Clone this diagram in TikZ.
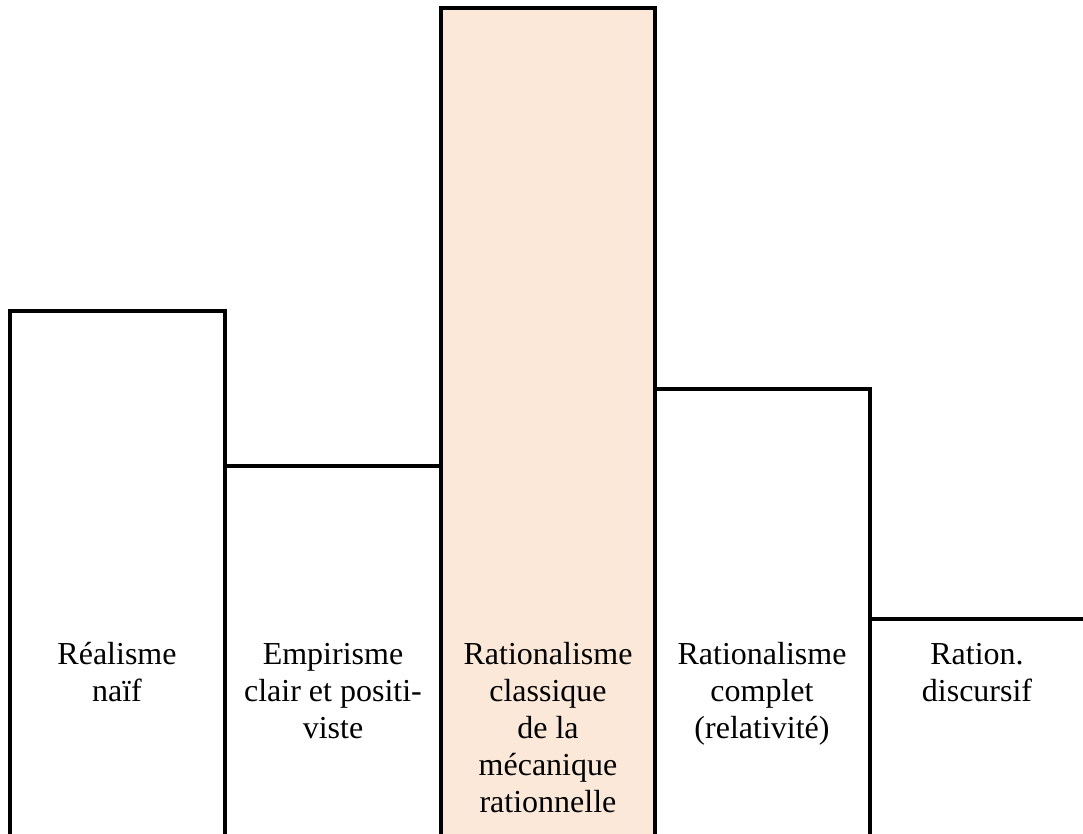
\documentclass[tikz,border=0pt]{standalone}
\usepackage{fontspec}
\setmainfont{Liberation Serif}
\usepackage{tikz}
\definecolor{peach}{HTML}{FCE8D9}
\newcommand{\barfont}{\fontsize{32}{37}\selectfont}

\begin{document}
\begin{tikzpicture}[x=1pt,y=-1pt,
  bar/.style={draw,line width=3.2pt},
  lbl/.style={align=center,font=\barfont,inner sep=0pt,anchor=north}
]
\useasboundingbox (0,0) rectangle (1083,834);

% barres
\fill[peach] (441,8) rectangle (655,834);
\draw[bar] (10,834) |- (225,311) -- (225,834);
\draw[bar] (225,466) -- (441,466);
\draw[bar] (441,834) |- (655,8) -- (655,834);
\draw[bar] (655,389) -| (870,834);
\draw[bar] (870,619) -- (1083,619);

% libellés
\node[lbl] (rn) at (117,638) {\strut Réalisme\\naïf};
\node[lbl] (ep) at (333,638) {\strut Empirisme\\clair et positi-\\viste};
\node[lbl] (rc) at (548,638) {\strut Rationalisme\\classique\\de la\\mécanique\\rationnelle};
\node[lbl] (rr) at (762,638) {\strut Rationalisme\\complet\\(relativité)};
\node[lbl] (rd) at (977,638) {\strut Ration.\\discursif};
\end{tikzpicture}
\end{document}
